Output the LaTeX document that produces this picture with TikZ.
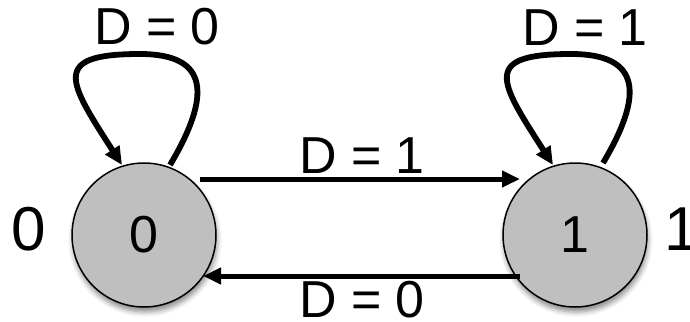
\documentclass[tikz,border=0pt]{standalone}
\usepackage{fontspec}
\setmainfont{Liberation Sans}
\usetikzlibrary{arrows.meta,shadows.blur}
\begin{document}
\begin{tikzpicture}[x=0.5pt,y=-0.5pt,
  state/.style={circle,draw=black,line width=0.75pt,fill=stategray,minimum size=72pt,inner sep=0pt,
    font=\fontsize{26}{30}\selectfont,
    blur shadow={shadow xshift=0.5pt,shadow yshift=-2.5pt,shadow blur radius=2.5pt,shadow opacity=45}},
  arr/.style={line width=2.5pt,-{Triangle[length=9pt,width=8pt]}},
  looparr/.style={arr,line width=2.9pt},
  lbl/.style={font=\fontsize{26}{30}\selectfont,inner sep=0pt},
  outer/.style={font=\fontsize{31}{36}\selectfont,inner sep=0pt}]
\definecolor{stategray}{RGB}{191,191,191}
\useasboundingbox (0,0) rectangle (690,321);
\node[state] (c0) at (144,235) {0};
\node[state] (c1) at (575,235) {1};
\node[outer] (o0) at (29,229) {0};
\node[outer] (o1) at (682,229) {1};
% transitions between states
\draw[arr] ([shift={(56,-56)}]c0.center) -- ([shift={(-55,-56)}]c1.center);
\draw[arr] ([shift={(-55,41)}]c1.center) -- ([shift={(59,41)}]c0.center);
\node[lbl] (l01) at (362,156) {D = 1};
\node[lbl] (l10) at (362,300) {D = 0};
% self loops
\coordinate (t0) at ([shift={(-4,-181)}]c0.center);
\coordinate (t1) at ([shift={(-4,-181)}]c1.center);
\draw[looparr] ([shift={(26,-70)}]c0.center) .. controls +(41,-69) and +(70,0) .. (t0)
  .. controls +(-90,0) and +(-54,-84) .. ([shift={(-22,-70)}]c0.center);
\draw[looparr] ([shift={(28,-72)}]c1.center) .. controls +(41,-69) and +(70,0) .. (t1)
  .. controls +(-90,0) and +(-54,-84) .. ([shift={(-22,-70)}]c1.center);
\node[lbl] (l00) at (157,27) {D = 0};
\node[lbl] (l11) at (585,28) {D = 1};
\end{tikzpicture}
\end{document}
